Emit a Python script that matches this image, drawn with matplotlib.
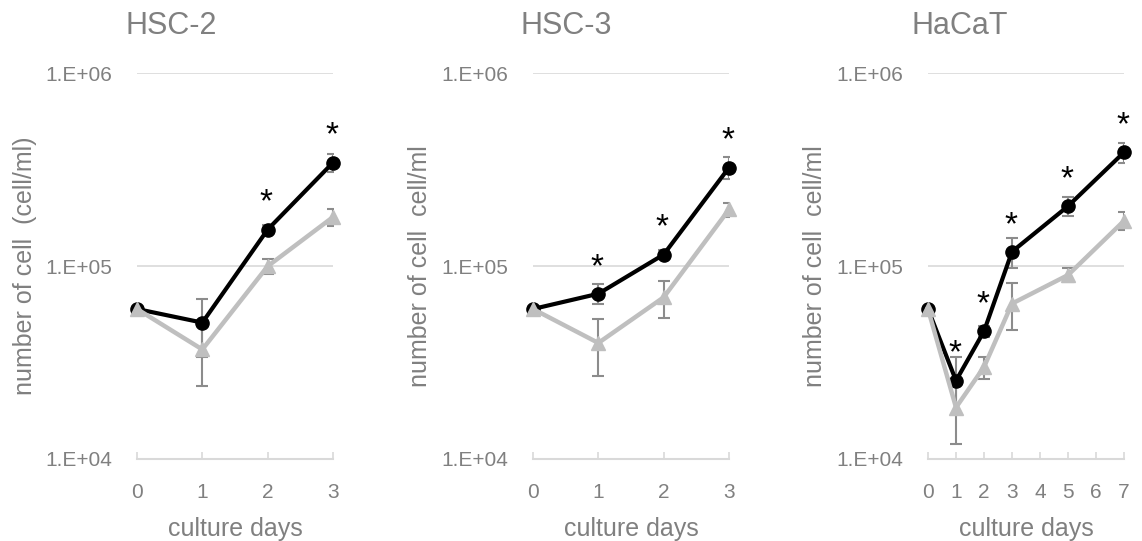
import numpy as np
import matplotlib
matplotlib.use('Agg')
import matplotlib.pyplot as plt

plt.rcParams['font.family'] = ['Liberation Sans', 'DejaVu Sans']

## Data (cells/ml)
titles = ['HSC-2', 'HSC-3', 'HaCaT']
ylabels = ['number of cell  (cell/ml)', 'number of cell  cell/ml', 'number of cell  cell/ml']
xtick_days = [[0, 1, 2, 3], [0, 1, 2, 3], [0, 1, 2, 3, 4, 5, 6, 7]]

hsc2_days = [0, 1, 2, 3]
hsc2_black = [6.0e4, 5.1e4, 1.55e5, 3.45e5]
hsc2_black_err = [0, 1.7e4, 8e3, 3.5e4]
hsc2_gray = [6.0e4, 3.7e4, 1.0e5, 1.8e5]
hsc2_gray_err = [0, 1.3e4, 9e3, 1.8e4]
hsc2_stars = [2, 3]

hsc3_days = [0, 1, 2, 3]
hsc3_black = [6.0e4, 7.2e4, 1.15e5, 3.25e5]
hsc3_black_err = [0, 8.5e3, 6e3, 4.3e4]
hsc3_gray = [6.0e4, 4.0e4, 6.9e4, 1.97e5]
hsc3_gray_err = [0, 1.3e4, 1.5e4, 1.7e4]
hsc3_stars = [1, 2, 3]

hacat_days = [0, 1, 2, 3, 5, 7]
hacat_black = [6.0e4, 2.55e4, 4.6e4, 1.19e5, 2.05e5, 3.9e5]
hacat_black_err = [0, 8.4e3, 3e3, 2.1e4, 2.3e4, 4.8e4]
hacat_gray = [6.0e4, 1.85e4, 3.0e4, 6.4e4, 9.0e4, 1.72e5]
hacat_gray_err = [0, 6.6e3, 4e3, 1.75e4, 7.5e3, 1.85e4]
hacat_stars = [1, 2, 3, 5, 7]

panels = [
    (hsc2_days, hsc2_black, hsc2_black_err, hsc2_gray, hsc2_gray_err, hsc2_stars),
    (hsc3_days, hsc3_black, hsc3_black_err, hsc3_gray, hsc3_gray_err, hsc3_stars),
    (hacat_days, hacat_black, hacat_black_err, hacat_gray, hacat_gray_err, hacat_stars),
]

# layout (pixels of a 1142x541 canvas)
W, H = 1142, 541
ax_left = [137, 533, 928]
ax_width = 196
ax_top, ax_bottom = 73.5, 459
title_x = [171, 566, 960]
ylab_x = [25, 420, 815]

txt_gray = '#808080'
grid_gray = '#D9D9D9'
line_gray = '#BFBFBF'
err_gray = '#8C8C8C'

fig = plt.figure(figsize=(W/100, H/100), dpi=100)

for i, (days, blk, blk_e, gry, gry_e, stars) in enumerate(panels):
    ax = fig.add_axes([ax_left[i]/W, 1 - ax_bottom/H, ax_width/W, (ax_bottom - ax_top)/H])
    ax.set_yscale('log')
    ax.set_ylim(1e4, 1e6)
    ax.set_xlim(xtick_days[i][0], xtick_days[i][-1])

    for s in ['top', 'right', 'left']:
        ax.spines[s].set_visible(False)
    ax.spines['bottom'].set_color(grid_gray)
    ax.spines['bottom'].set_linewidth(1.5)

    ax.set_yticks([1e4, 1e5, 1e6])
    ax.set_yticklabels(['1.E+04', '1.E+05', '1.E+06'])
    ax.yaxis.set_minor_locator(matplotlib.ticker.NullLocator())
    ax.set_xticks(xtick_days[i])
    ax.set_xticklabels([str(d) for d in xtick_days[i]])
    ax.tick_params(axis='y', length=0, pad=18, labelsize=15, labelcolor=txt_gray)
    ax.tick_params(axis='x', direction='in', length=5, width=1.2, color=grid_gray,
                   pad=17.5, labelsize=15, labelcolor=txt_gray)
    ax.grid(axis='y', which='major', color=grid_gray, linewidth=1.2)
    ax.set_axisbelow(True)

    d = np.array(days)
    b = np.array(blk); be = np.array(blk_e)
    g = np.array(gry); ge = np.array(gry_e)

    # error bars sit behind the markers
    mb = be > 0
    ax.errorbar(d[mb], b[mb], yerr=be[mb], fmt='none', ecolor=err_gray,
                elinewidth=1.5, capsize=4, capthick=1.5, zorder=2)
    mg = ge > 0
    ax.errorbar(d[mg], g[mg], yerr=ge[mg], fmt='none', ecolor=err_gray,
                elinewidth=1.5, capsize=4, capthick=1.5, zorder=2)

    ax.plot(d, b, '-o', color='black', linewidth=3, markersize=9.5, clip_on=False, zorder=3)
    ax.plot(d, g, '-^', color=line_gray, linewidth=3.2, markersize=10, clip_on=False, zorder=4)

    for sd in stars:
        yv = b[list(days).index(sd)]
        ax.annotate('*', xy=(sd, yv), xytext=(-1, 19), textcoords='offset points',
                    ha='center', va='center', fontsize=24, color='black',
                    annotation_clip=False)

    fig.text(title_x[i]/W, 1 - 26/H, titles[i], ha='center', va='center',
             fontsize=22, color=txt_gray)
    fig.text(ylab_x[i]/W, 1 - 266/H, ylabels[i], ha='center', va='center',
             rotation=90, fontsize=18, color=txt_gray)
    fig.text((ax_left[i] + ax_width/2)/W, 1 - 529/H, 'culture days', ha='center',
             va='center', fontsize=18, color=txt_gray)

plt.savefig('out.png', dpi=100)
